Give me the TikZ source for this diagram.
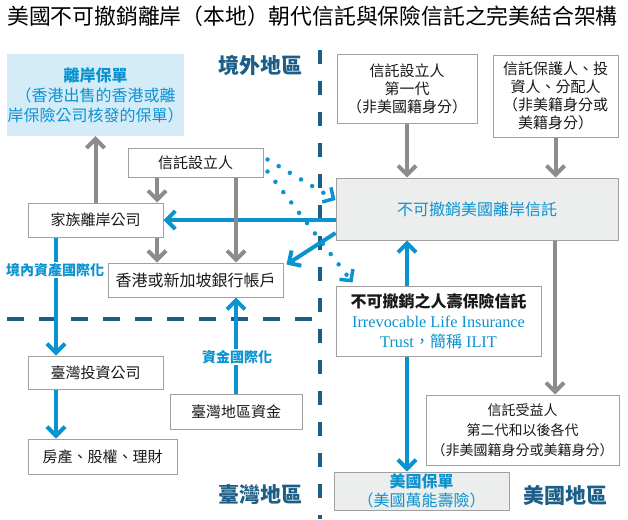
\documentclass[tikz,border=0pt]{standalone}
\usepackage{fontspec}
\setmainfont{Noto Sans CJK TC}
\newfontfamily\enserif{Liberation Serif}
\usetikzlibrary{arrows.meta}
\definecolor{tblue}{HTML}{0B93D0}
\definecolor{regionblue}{HTML}{1B5E87}
\definecolor{arrowgray}{HTML}{8C8C8C}
\definecolor{boxgray}{HTML}{A0A0A0}
\definecolor{trustfill}{HTML}{ECEEEE}
\definecolor{policyfill}{HTML}{D4EBF8}
\begin{document}
\begin{tikzpicture}[x=1pt,y=-1pt,
		box/.style={draw=boxgray,line width=1pt,fill=white,align=center,inner sep=0pt,text=black!90,font=\fontsize{15}{18}\selectfont},
		gray arrow/.style={draw=arrowgray,line width=4pt,-{Straight Barb[length=9pt,width=18pt]}},
		blue arrow/.style={draw=tblue,line width=4pt,-{Straight Barb[length=9pt,width=18pt]}},
		dot arrow/.style={draw=tblue,line width=4.5pt,line cap=round,dash pattern=on 0pt off 13pt,-{Straight Barb[length=8pt,width=17pt,line width=3.5pt]}},
		region/.style={text=regionblue,font=\fontsize{21}{24}\selectfont\bfseries},
		tag/.style={fill=white,text=tblue,font=\fontsize{14}{16}\selectfont\bfseries,inner sep=1pt}]
	\useasboundingbox (0,0) rectangle (628,519);
	\node[anchor=west,inner sep=0pt,font=\fontsize{21.8}{24}\selectfont] (title) at (7,16) {美國不可撤銷離岸（本地）朝代信託與保險信託之完美結合架構};
	\draw[regionblue,line width=4pt,dash pattern=on 14pt off 17pt] (320,50) -- (320,519);
	\draw[regionblue,line width=4pt,dash pattern=on 17pt off 15pt] (7,319) -- (320,319);
	\node[region] (outside) at (260,65) {境外地區};
	\node[region] (taiwan) at (260,495) {臺灣地區};
	\node[region] (usa) at (565,495) {美國地區};

	\node[fill=policyfill,minimum width=177pt,minimum height=82pt,align=center,inner sep=0pt,text=tblue,font=\fontsize{16}{20}\selectfont] (offpolicy) at (95.5,95) {\textbf{離岸保單}\\（香港出售的香港或離\\岸保險公司核發的保單）};
	\node[box,minimum width=140pt,minimum height=69pt] (settlorus) at (407,88.5) {信託設立人\\第一代\\（非美國籍身分）};
	\node[box,minimum width=125pt,minimum height=82pt] (protector) at (555.5,96) {信託保護人、投\\資人、分配人\\（非美籍身分或\\美籍身分）};
	\node[box,fill=trustfill,minimum width=282pt,minimum height=62pt,text=tblue,font=\fontsize{16}{20}\selectfont] (trust) at (477,209) {不可撤銷美國離岸信託};
	\node[box,minimum width=205pt,minimum height=70pt,font=\fontsize{16}{20}\selectfont] (ilit) at (438.5,321) {\textbf{不可撤銷之人壽保險信託}\\\textcolor{tblue}{\enserif\fontsize{16.3}{20}\selectfont Irrevocable Life Insurance}\\\textcolor{tblue}{\enserif\fontsize{16.3}{20}\selectfont Trust{\normalfont\fontsize{16}{20}\selectfont，簡稱} ILIT}};
	\node[box,minimum width=193pt,minimum height=70pt,font=\fontsize{14}{20}\selectfont] (heirs) at (522.5,430) {信託受益人\\第二代和以後各代\\（非美國籍身分或美籍身分）};
	\node[box,fill=trustfill,minimum width=175pt,minimum height=38pt,text=tblue,font=\fontsize{16}{19}\selectfont] (uspolicy) at (421.5,491) {\textbf{美國保單}\\（美國萬能壽險）};
	\node[box,minimum width=135pt,minimum height=29pt] (settlor) at (195.5,162.5) {信託設立人};
	\node[box,minimum width=135pt,minimum height=34pt] (family) at (95.5,220) {家族離岸公司};
	\node[box,minimum width=175pt,minimum height=34pt,font=\fontsize{16}{18}\selectfont] (bank) at (195.5,280) {香港或新加坡銀行帳戶};
	\node[box,minimum width=135pt,minimum height=33pt] (twfirm) at (95.5,372.5) {臺灣投資公司};
	\node[box,minimum width=132pt,minimum height=35pt] (twfund) at (236,411.5) {臺灣地區資金};
	\node[box,minimum width=149pt,minimum height=35pt] (assets) at (102.5,456.5) {房產、股權、理財};

	\coordinate (c1) at (157,0);
	\coordinate (c2) at (236,0);
	\coordinate (c3) at (56,0);
	\coordinate (c4) at (555,0);

	\draw[blue arrow] (trust.west |- family.east) -- (family.east);
	\draw[blue arrow] ([yshift=-24pt]trust.west) -- ([xshift=3pt,yshift=-2pt]bank.north east);
	\draw[blue arrow] (twfund.north -| c2) -- (bank.south -| c2);
	\draw[blue arrow] (family.south -| c3) -- (twfirm.north -| c3);
	\draw[blue arrow] (twfirm.south -| c3) -- (assets.north -| c3);
	\draw[blue arrow] (ilit.north -| settlorus) -- (trust.south -| settlorus);
	\draw[blue arrow] (ilit.south -| settlorus) -- (uspolicy.north -| settlorus);
	\draw[dot arrow] ([xshift=4pt,yshift=3pt]settlor.east) -- ([yshift=9pt]trust.west);
	\draw[dot arrow] ([xshift=4pt,yshift=-9pt]settlor.east) -- ([xshift=17pt,yshift=3pt]ilit.north west);

	\draw[gray arrow] (family) -- (offpolicy);
	\draw[gray arrow] (settlor.south -| c1) -- (family.north -| c1);
	\draw[gray arrow] (family.south -| c1) -- (bank.north -| c1);
	\draw[gray arrow] (settlor.south -| c2) -- (bank.north -| c2);
	\draw[gray arrow] (settlorus) -- (settlorus |- trust.north);
	\draw[gray arrow] (protector) -- (protector |- trust.north);
	\draw[gray arrow] (trust.south -| c4) -- (heirs.north -| c4);

	\node[tag] (fundtag) at (237,357) {資金國際化};
	\node[tag] (assettag) at (55,270) {境內資產國際化};
\end{tikzpicture}
\end{document}
